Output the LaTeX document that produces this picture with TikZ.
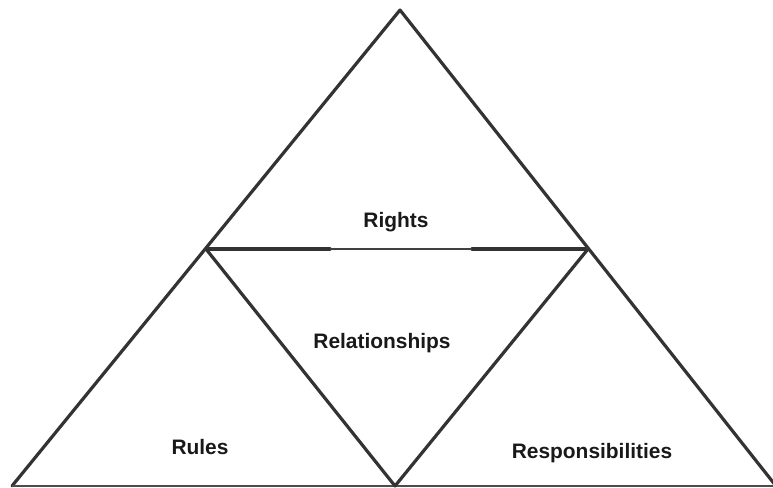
\documentclass[tikz,border=0pt]{standalone}
\usepackage{fontspec}
\setmainfont{Liberation Sans}
\begin{document}
\begin{tikzpicture}[x=1bp,y=-1bp,
  edge/.style={draw=black!80, line width=3.2bp, line cap=round, line join=round},
  thinedge/.style={draw=black!75, line width=1.3bp},
  baseedge/.style={draw=black!70, line width=2bp},
  lbl/.style={font=\bfseries\fontsize{21}{24}\selectfont, anchor=base, inner sep=0pt, text=black!90}]
\useasboundingbox (0,0) rectangle (773,488);
\coordinate (apex) at (400,10);
\coordinate (bl) at (12,486);
\coordinate (br) at (776,486);
\coordinate (ml) at (206,249);
\coordinate (mr) at (588,249);
\coordinate (bm) at (395,486);
\coordinate (g1) at (330,249);
\coordinate (g2) at (472,249);
% outer sides
\draw[edge] (bl) -- (apex) -- (br);
\draw[baseedge] (bl) -- (br);
% inner triangle
\draw[edge] (ml) -- (bm) -- (mr);
\draw[edge] (ml) -- (g1);
\draw[edge] (g2) -- (mr);
\draw[thinedge] (g1) -- (g2);
% labels
\node[lbl] (rights) at (396,228) {Rights};
\node[lbl] (rel) at (382,348) {Relationships};
\node[lbl] (rules) at (200,454) {Rules};
\node[lbl] (resp) at (592,458) {Responsibilities};
\end{tikzpicture}
\end{document}
